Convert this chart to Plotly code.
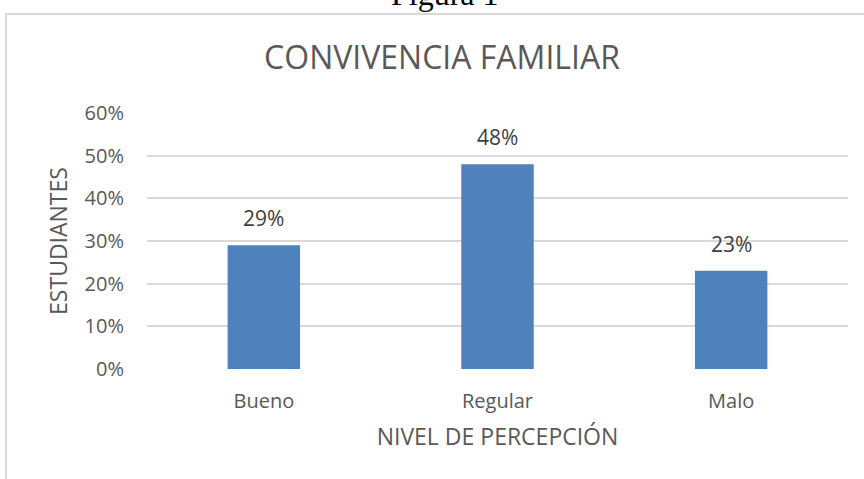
import plotly.graph_objects as go

categories = ["Bueno", "Regular", "Malo"]
values = [0.29, 0.48, 0.23]
value_labels = ["29%", "48%", "23%"]
y_ticks = [0, 0.1, 0.2, 0.3, 0.4, 0.5, 0.6]
y_tick_labels = ["0%", "10%", "20%", "30%", "40%", "50%", "60%"]

FONT = "Open Sans"
GRAY = "#595959"
GRID = "#D9D9D9"

fig = go.Figure()
fig.add_trace(go.Bar(x=categories, y=values, marker_color="#4F81BD",
                     marker_line_width=0, hoverinfo="skip"))

for c, v, t in zip(categories, values, value_labels):
    fig.add_annotation(x=c, y=v, text=t, showarrow=False, yshift=27,
                       yanchor="middle", font=dict(family=FONT, size=21, color="#404040"))

# Figure caption (partially cut at top)
fig.add_annotation(xref="paper", yref="paper", x=0.425, y=1.463, text="Figura 1",
                   showarrow=False, yanchor="middle",
                   font=dict(family="Liberation Serif", size=32, color="#000000"))

# chart border
fig.add_shape(type="rect", xref="paper", yref="paper", x0=-0.2011, x1=1.031,
              y0=-0.47, y1=1.3867, line=dict(color=GRID, width=2), layer="below")

fig.update_layout(
    width=864, height=479,
    margin=dict(l=147, r=16, t=113, b=110),
    paper_bgcolor="white", plot_bgcolor="white",
    bargap=0.69,
    showlegend=False,
    title=dict(text="CONVIVENCIA FAMILIAR", x=0.5116, xanchor="center",
               y=1 - 58 / 479, yanchor="middle",
               font=dict(family=FONT, size=32, color=GRAY)),
    xaxis=dict(showgrid=False, showline=False, zeroline=False, ticks="",
               tickfont=dict(family=FONT, size=20, color=GRAY),
               ticklabelstandoff=18,
               title=dict(text="NIVEL DE PERCEPCIÓN", standoff=15,
                          font=dict(family=FONT, size=23, color=GRAY))),
    yaxis=dict(range=[0, 0.6], tickvals=y_ticks, ticktext=y_tick_labels,
               showgrid=True, gridcolor=GRID, gridwidth=1.5, zeroline=False,
               showline=False, ticks="",
               tickfont=dict(family=FONT, size=20, color=GRAY),
               ticklabelstandoff=22,
               title=dict(text="ESTUDIANTES", standoff=10,
                          font=dict(family=FONT, size=23, color=GRAY))),
)

fig.write_html("out.html", config={"displayModeBar": False},
               post_script="document.body.style.margin='0';document.body.style.overflow='hidden';")
